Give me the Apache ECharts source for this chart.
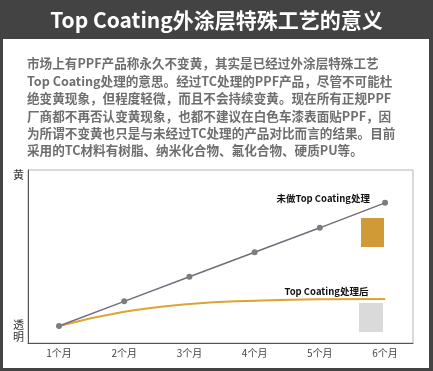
<!DOCTYPE html>
<html>
<head>
<meta charset="utf-8">
<script src="https://cdn.jsdelivr.net/npm/echarts@6/dist/echarts.min.js"></script>
<style>html,body{margin:0;padding:0;background:#fff}#c{width:433px;height:371px}</style>
</head>
<body>
<div id="c"></div>
<script>
const categories = ['1个月', '2个月', '3个月', '4个月', '5个月', '6个月'];
const untreatedValues = [1.42, 3.47, 5.52, 7.56, 9.6, 11.68];
const treatedValues = [1.42, 2.61, 3.25, 3.53, 3.64, 3.67];
const seriesNames = ['未做Top Coating处理', 'Top Coating处理后'];
const yTickLabels = { 1: '透\n明', 14: '黄' };
const yMax = 14.42;
const headline = 'Top Coating外涂层特殊工艺的意义';
const paragraphLines = [
  '市场上有PPF产品称永久不变黄，其实是已经过外涂层特殊工艺',
  'Top Coating处理的意思。经过TC处理的PPF产品，尽管不可能杜',
  '绝变黄现象，但程度轻微，而且不会持续变黄。现在所有正规PPF',
  '厂商都不再否认变黄现象，也都不建议在白色车漆表面贴PPF，因',
  '为所谓不变黄也只是与未经过TC处理的产品对比而言的结果。目前',
  '采用的TC材料有树脂、纳米化合物、氟化合物、硬质PU等。'
];

const FONT = '"Noto Sans CJK SC", "Noto Sans", sans-serif';
const chart = echarts.init(document.getElementById('c'), null, { renderer: 'canvas' });
const lastIdx = categories.length - 1;

chart.setOption({
  backgroundColor: '#434343',
  animation: false,
  title: [
    {
      text: headline, left: 'center', top: 8, padding: 0,
      textStyle: { color: '#ffffff', fontSize: 21, fontWeight: 'bold', fontFamily: FONT, lineHeight: 24 }
    },
    {
      text: paragraphLines.join('\n'), left: 27, top: 55, padding: 0,
      textStyle: { color: '#6e6e6e', fontSize: 12.6, fontWeight: 'bold', fontFamily: FONT, lineHeight: 17.4 }
    }
  ],
  graphic: [
    { type: 'rect', z: -10, shape: { x: 3, y: 39, width: 426, height: 329 }, style: { fill: '#ffffff' } },
    { type: 'rect', z: 5, shape: { x: 361, y: 218, width: 23, height: 29 }, style: { fill: '#cf9a37' } },
    { type: 'rect', z: 5, shape: { x: 359, y: 303, width: 24, height: 29 }, style: { fill: '#dadada' } }
  ],
  grid: [
    { left: 28, right: 20, top: 170, bottom: 28, show: true, borderColor: '#b4b4b4', borderWidth: 1, backgroundColor: 'transparent' },
    { left: 59, right: 48, top: 170, bottom: 28 }
  ],
  xAxis: [
    {
      gridIndex: 0, type: 'value', min: 0, max: 1,
      axisLine: { show: true, lineStyle: { color: '#555', width: 1 } },
      axisTick: { show: false }, axisLabel: { show: false }, splitLine: { show: false }
    },
    {
      gridIndex: 1, type: 'category', data: categories, boundaryGap: false,
      axisLine: { show: false }, axisTick: { show: false }, splitLine: { show: false },
      axisLabel: { color: '#444', fontSize: 10, fontFamily: FONT, margin: 5 }
    }
  ],
  yAxis: [
    {
      gridIndex: 0, type: 'value', min: 0, max: yMax, interval: 1,
      axisLine: { show: true, lineStyle: { color: '#555', width: 1 } },
      axisTick: { show: false }, splitLine: { show: false },
      axisLabel: {
        color: '#333', fontSize: 11, lineHeight: 11.5, fontFamily: FONT, margin: 4,
        formatter: v => yTickLabels[v] || ''
      }
    },
    { gridIndex: 1, type: 'value', min: 0, max: yMax, show: false }
  ],
  series: [
    {
      name: seriesNames[0], type: 'line', xAxisIndex: 1, yAxisIndex: 1,
      data: untreatedValues, z: 4,
      symbol: 'circle', symbolSize: 6,
      lineStyle: { color: '#6f6f7c', width: 1.5 },
      itemStyle: { color: '#7d7d7d' },
      label: {
        show: true, position: 'left', distance: 12, offset: [0, -4],
        color: '#111', fontSize: 9.5, fontWeight: 'bold', fontFamily: FONT,
        formatter: p => p.dataIndex === lastIdx ? p.seriesName : ''
      }
    },
    {
      name: seriesNames[1], type: 'line', xAxisIndex: 1, yAxisIndex: 1,
      data: treatedValues, z: 3, smooth: 0.5,
      symbol: 'circle', symbolSize: 1,
      lineStyle: { color: '#dba531', width: 2 },
      itemStyle: { color: '#dba531' },
      label: {
        show: true, position: 'left', distance: 16, offset: [0, -8],
        color: '#111', fontSize: 9.5, fontWeight: 'bold', fontFamily: FONT,
        formatter: p => p.dataIndex === lastIdx ? p.seriesName : ''
      }
    }
  ]
});
</script>
</body>
</html>
